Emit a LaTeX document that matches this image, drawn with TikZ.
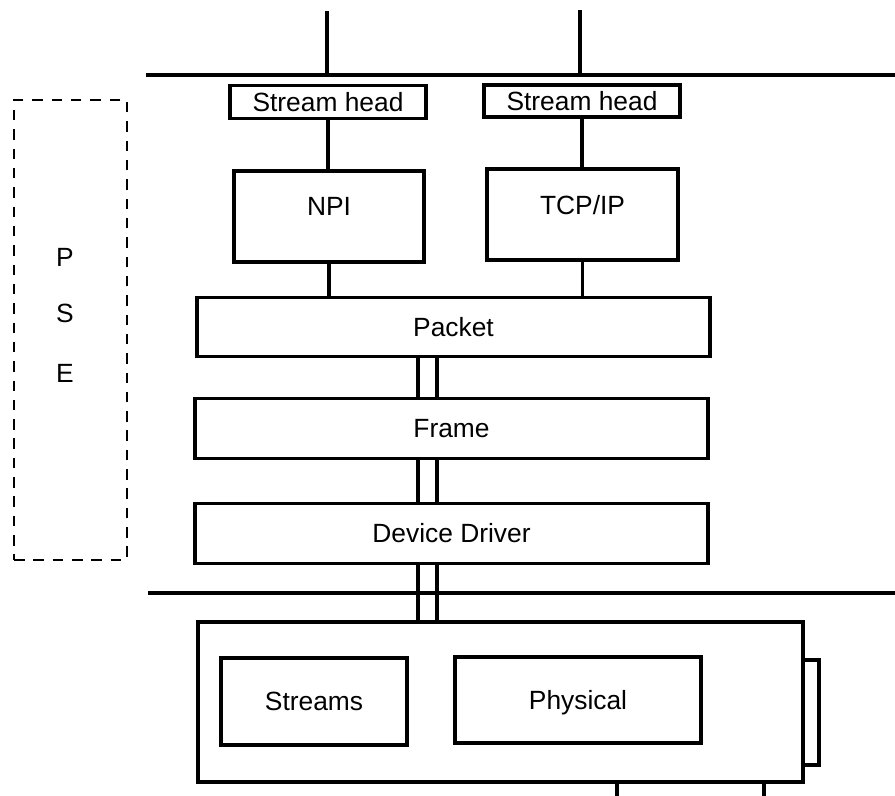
\documentclass[tikz,border=0pt]{standalone}
\usepackage{fontspec}
\setmainfont{Liberation Sans}

\begin{document}
\begin{tikzpicture}[x=0.02cm, y=-0.02cm, line width=1.9pt,
  every node/.style={font=\fontsize{15}{18}\selectfont, inner sep=0pt},
  box/.style={draw, rectangle},
  upbox/.style={box, text depth=11pt},
  layer/.style={box, minimum width=10.26cm, minimum height=1.19cm}]
  \useasboundingbox (0,0) rectangle (895,795);

  % the two bus lines
  \coordinate (topL) at (146,75);
  \coordinate (topR) at (895,75);
  \coordinate (botL) at (148,593);
  \coordinate (botR) at (895,593);
  \draw (topL) -- (topR);
  \draw (botL) -- (botR);

  % upper modules
  \node[box, minimum width=3.92cm, minimum height=0.66cm] (sh1) at (328,102) {Stream head};
  \node[box, minimum width=3.92cm, minimum height=0.64cm] (sh2) at (582,101) {Stream head};
  \node[upbox, minimum width=3.8cm, minimum height=1.82cm] (npi) at (329,216.5) {NPI};
  \node[upbox, minimum width=3.82cm, minimum height=1.82cm] (tcp) at (582.5,214.5) {TCP/IP};

  % layers
  \node[layer] (packet) at (453.5,327) {Packet};
  \node[layer] (frame) at (451.5,428.5) {Frame};
  \node[layer] (driver) at (451.5,533.5) {Device Driver};

  % board
  \node[box, minimum width=0.32cm, minimum height=2.1cm] (sidetab) at (811,712.5) {};
  \node[box, minimum width=2.94cm, minimum height=0.52cm] (bottab) at (690.5,795) {};
  \node[box, fill=white, minimum width=12.1cm, minimum height=3.2cm] (host) at (500.5,702) {};
  \node[box, minimum width=3.72cm, minimum height=1.74cm] (streams) at (314,701.5) {Streams};
  \node[box, text depth=0pt, minimum width=4.92cm, minimum height=1.72cm] (phys) at (578,700) {Physical};

  % PSE
  \node[draw, line width=1.6pt, dash pattern=on 6pt off 5pt, minimum width=2.26cm, minimum height=9.2cm] (pse) at (70.5,330) {};
  \foreach \l/\y in {P/257,S/313,E/373}
    \node (pse\l) at (65,\y) {\l};

  % connections
  \coordinate (in1) at (327,11);
  \coordinate (in2) at (580,10);
  \draw (in1) -- (in1 |- topL);
  \draw (in2) -- (in2 |- topL);
  \draw (sh1.south) -- (sh1.south |- npi.north);
  \draw (sh2.south) -- (sh2.south |- tcp.north);
  \draw (npi.south) -- (npi.south |- packet.north);
  \draw (tcp.south) -- (tcp.south |- packet.north);
  \foreach \x in {418,437} {
    \draw (\x,0 |- packet.south) -- (\x,0 |- frame.north);
    \draw (\x,0 |- frame.south) -- (\x,0 |- driver.north);
    \draw (\x,0 |- driver.south) -- (\x,0 |- host.north);
  }
\end{tikzpicture}
\end{document}
